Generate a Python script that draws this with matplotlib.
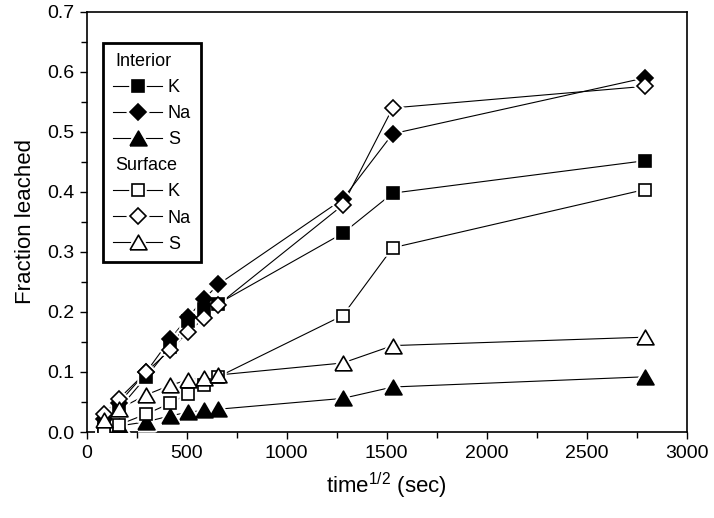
import matplotlib

matplotlib.use("Agg")
import matplotlib.pyplot as plt
from matplotlib.legend_handler import HandlerTuple
from matplotlib.lines import Line2D
from matplotlib.ticker import MultipleLocator

plt.rcParams.update({
    "font.family": ["Liberation Sans", "DejaVu Sans"],
    "font.size": 13,
    "axes.linewidth": 1.2,
    "mathtext.fontset": "custom",
    "mathtext.rm": "Liberation Sans",
})

# sqrt-time sampling points (sec)
T = [88, 160, 298, 418, 508, 588, 658, 1280, 1530, 2790]

INT_K = [0.012, 0.038, 0.092, 0.142, 0.185, 0.205, 0.214, 0.331, 0.398, 0.452]
INT_NA = [0.022, 0.048, 0.100, 0.155, 0.192, 0.222, 0.246, 0.388, 0.497, 0.590]
INT_S = [0.005, 0.010, 0.017, 0.027, 0.033, 0.036, 0.038, 0.056, 0.075, 0.092]
SUR_K = [0.003, 0.012, 0.030, 0.048, 0.064, 0.078, 0.092, 0.194, 0.307, 0.404]
SUR_NA = [0.030, 0.055, 0.100, 0.137, 0.167, 0.190, 0.212, 0.378, 0.540, 0.576]
SUR_S = [0.020, 0.038, 0.062, 0.078, 0.087, 0.090, 0.095, 0.115, 0.144, 0.158]

# equilateral triangle (matplotlib's "^" is as tall as it is wide)
TRI = [(-1, -0.866), (1, -0.866), (0, 0.866), (-1, -0.866)]

series = [
    ("K", INT_K, "s", 9, "black"),
    ("Na", INT_NA, "D", 8.5, "black"),
    ("S", INT_S, TRI, 12.2, "black"),
    ("K", SUR_K, "s", 9, "white"),
    ("Na", SUR_NA, "D", 8.5, "white"),
    ("S", SUR_S, TRI, 12.2, "white"),
]

fig = plt.figure(figsize=(7.14, 5.18), dpi=100)
ax = fig.add_axes([0.1214, 0.166, 0.8404, 0.811])

handles = []
for name, y, mk, ms, fc in series:
    # connecting line, broken around each symbol by a white halo
    ax.plot(T, y, color="black", lw=0.8, zorder=2)
    ax.plot(T, y, ls="none", marker=mk, ms=ms, mfc="white", mec="white",
            mew=4, zorder=3)
    ax.plot(T, y, ls="none", marker=mk, ms=ms, mfc=fc, mec="black",
            mew=1.2, zorder=4)
    handles.append((
        Line2D([], [], color="black", lw=0.8),
        Line2D([], [], ls="none", marker=mk, ms=ms, mfc="white", mec="white", mew=4),
        Line2D([], [], ls="none", marker=mk, ms=ms, mfc=fc, mec="black", mew=1.2),
    ))

blank = Line2D([], [], color="none")
leg_handles = [blank] + handles[:3] + [blank] + handles[3:]
leg_labels = [" ", "K", "Na", "S", " ", "K", "Na", "S"]
leg = ax.legend(leg_handles, leg_labels, loc="upper left",
                bbox_to_anchor=(0.027, 0.925), borderaxespad=0,
                fancybox=False, framealpha=1, edgecolor="black",
                handlelength=2.75, handletextpad=0.3, borderpad=0.55,
                labelspacing=0.5, fontsize=13,
                handler_map={tuple: HandlerTuple(ndivide=1, pad=0)})
leg.get_frame().set_linewidth(2.0)

ax.set_xlim(0, 3000)
ax.set_ylim(0, 0.7)
ax.xaxis.set_major_locator(MultipleLocator(500))
ax.xaxis.set_minor_locator(MultipleLocator(250))
ax.yaxis.set_major_locator(MultipleLocator(0.1))
ax.yaxis.set_minor_locator(MultipleLocator(0.05))
ax.yaxis.set_major_formatter(lambda v, _: f"{v:.1f}")
ax.tick_params(which="both", direction="out", length=5, width=1.0,
               labelsize=14, pad=4)
ax.tick_params(which="minor", length=4)

ax.set_xlabel(r"time$^{\mathrm{1/2}}$ (sec)", fontsize=16, labelpad=7)
ax.set_ylabel("Fraction leached", fontsize=16, labelpad=8)

# group headers sit in the blank legend rows, flush with the frame
fig.canvas.draw()
frame = leg.get_window_extent()
for i, title in ((0, "Interior"), (4, "Surface")):
    row = leg.get_texts()[i].get_window_extent()
    ax.annotate(title, xy=(frame.x0 + 12, (row.y0 + row.y1) / 2),
                xycoords="figure pixels", ha="left", va="center",
                fontsize=13, zorder=6)

fig.savefig("out.png", dpi=100)
